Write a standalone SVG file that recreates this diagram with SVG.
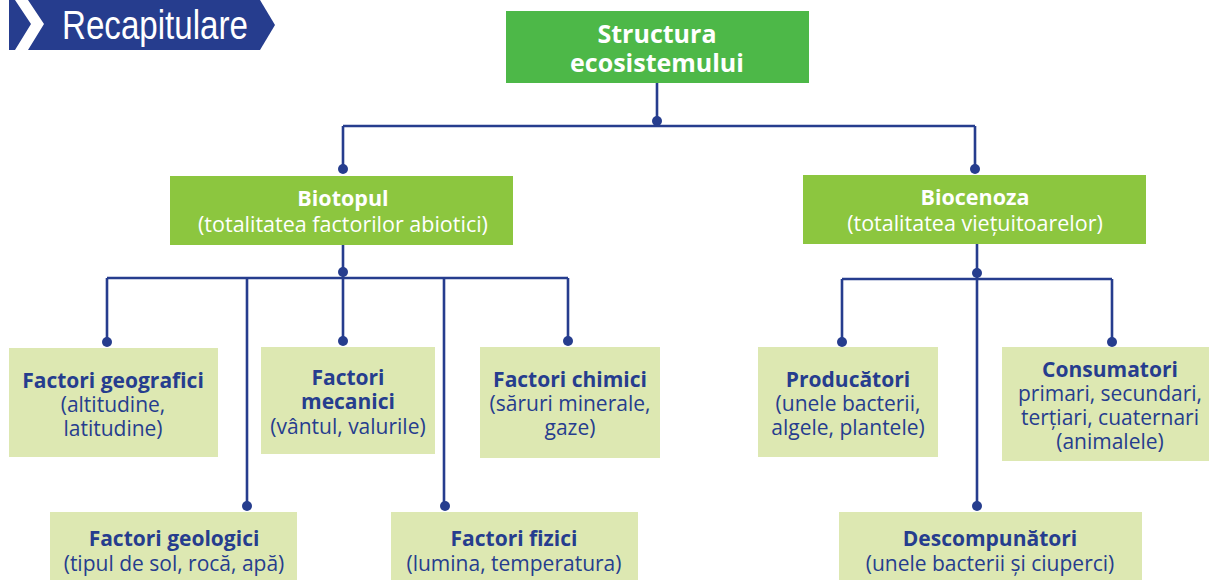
<svg xmlns="http://www.w3.org/2000/svg" width="1209" height="583" viewBox="0 0 1209 583">
<style>
.t{font-family:"Open Sans","Noto Sans","Liberation Sans",sans-serif;text-anchor:middle}
.b{font-weight:bold}
.w{fill:#ffffff}
.d{fill:#263d8e}
.n{font-size:21px}
.m{font-size:21.5px}
.g1{fill:#4db848}
.g2{fill:#8cc63f}
.g3{fill:#dde8b2}
.ln{stroke:#263d8e;stroke-width:2.6;fill:none}
.dot{fill:#263d8e}
</style>
<g id="header">
<polygon points="9,0 260,0 275,25 260,50 9,50" fill="#263d8e"/>
<polygon points="15,0 28,0 44,24 28,50 15,50 31,24" fill="#ffffff"/>
<text x="155" y="39" font-family="Liberation Sans, sans-serif" font-size="40" fill="#ffffff" text-anchor="middle" textLength="186" lengthAdjust="spacingAndGlyphs">Recapitulare</text>
</g>
<g id="connectors">
<path class="ln" d="M657,83 V126 M343,126 H975 M343,126 V169 M975,126 V169"/>
<circle class="dot" cx="657" cy="121" r="5"/>
<circle class="dot" cx="343" cy="169" r="5"/>
<circle class="dot" cx="975" cy="169" r="5"/>
<path class="ln" d="M343,245 V278 M107,278 H568 M107,278 V342 M247,278 V506 M343,278 V341 M444,278 V506 M568,278 V341"/>
<circle class="dot" cx="343" cy="272" r="5"/>
<circle class="dot" cx="107" cy="342" r="5"/>
<circle class="dot" cx="343" cy="341" r="5"/>
<circle class="dot" cx="568" cy="341" r="5"/>
<circle class="dot" cx="247" cy="506" r="5"/>
<circle class="dot" cx="445" cy="506" r="5"/>
<path class="ln" d="M977,244 V506 M842,279 H1112 M842,279 V342 M1112,279 V342"/>
<circle class="dot" cx="977" cy="273" r="5"/>
<circle class="dot" cx="842" cy="342" r="5"/>
<circle class="dot" cx="1112" cy="342" r="5"/>
<circle class="dot" cx="977" cy="506" r="5"/>
</g>
<g id="structura">
<rect class="g1" x="506" y="11" width="303" height="72"/>
<text class="t b w" x="657" y="43" font-size="25">Structura</text>
<text class="t b w" x="657" y="72" font-size="25">ecosistemului</text>
</g>
<g id="biotopul">
<rect class="g2" x="170" y="176" width="343" height="69"/>
<text class="t b w m" x="343" y="206">Biotopul</text>
<text class="t w m" x="343" y="232">(totalitatea factorilor abiotici)</text>
</g>
<g id="biocenoza">
<rect class="g2" x="803" y="175" width="343" height="69"/>
<text class="t b w m" x="975" y="205">Biocenoza</text>
<text class="t w m" x="975" y="231">(totalitatea viețuitoarelor)</text>
</g>
<g id="geografici">
<rect class="g3" x="9" y="348" width="209" height="109"/>
<text class="t b d n" x="113" y="388">Factori geografici</text>
<text class="t d n" x="113" y="412">(altitudine,</text>
<text class="t d n" x="113" y="436">latitudine)</text>
</g>
<g id="mecanici">
<rect class="g3" x="261" y="347" width="174" height="107"/>
<text class="t b d n" x="348" y="385">Factori</text>
<text class="t b d n" x="348" y="409">mecanici</text>
<text class="t d n" x="348" y="434">(vântul, valurile)</text>
</g>
<g id="chimici">
<rect class="g3" x="480" y="347" width="180" height="111"/>
<text class="t b d n" x="570" y="387">Factori chimici</text>
<text class="t d n" x="570" y="411">(săruri minerale,</text>
<text class="t d n" x="570" y="435">gaze)</text>
</g>
<g id="geologici">
<rect class="g3" x="50" y="512" width="247" height="68"/>
<text class="t b d n" x="174" y="546">Factori geologici</text>
<text class="t d n" x="174" y="571">(tipul de sol, rocă, apă)</text>
</g>
<g id="fizici">
<rect class="g3" x="391" y="512" width="247" height="68"/>
<text class="t b d n" x="514" y="546">Factori fizici</text>
<text class="t d n" x="514" y="571">(lumina, temperatura)</text>
</g>
<g id="producatori">
<rect class="g3" x="758" y="347" width="180" height="110"/>
<text class="t b d n" x="848" y="387">Producători</text>
<text class="t d n" x="848" y="411">(unele bacterii,</text>
<text class="t d n" x="848" y="435">algele, plantele)</text>
</g>
<g id="consumatori">
<rect class="g3" x="1002" y="347" width="207" height="114"/>
<text class="t b d n" x="1110" y="377">Consumatori</text>
<text class="t d n" x="1110" y="401">primari, secundari,</text>
<text class="t d n" x="1110" y="425">terțiari, cuaternari</text>
<text class="t d n" x="1110" y="449">(animalele)</text>
</g>
<g id="descompunatori">
<rect class="g3" x="839" y="512" width="303" height="68"/>
<text class="t b d n" x="990" y="546">Descompunători</text>
<text class="t d n" x="990" y="571">(unele bacterii și ciuperci)</text>
</g>
</svg>
